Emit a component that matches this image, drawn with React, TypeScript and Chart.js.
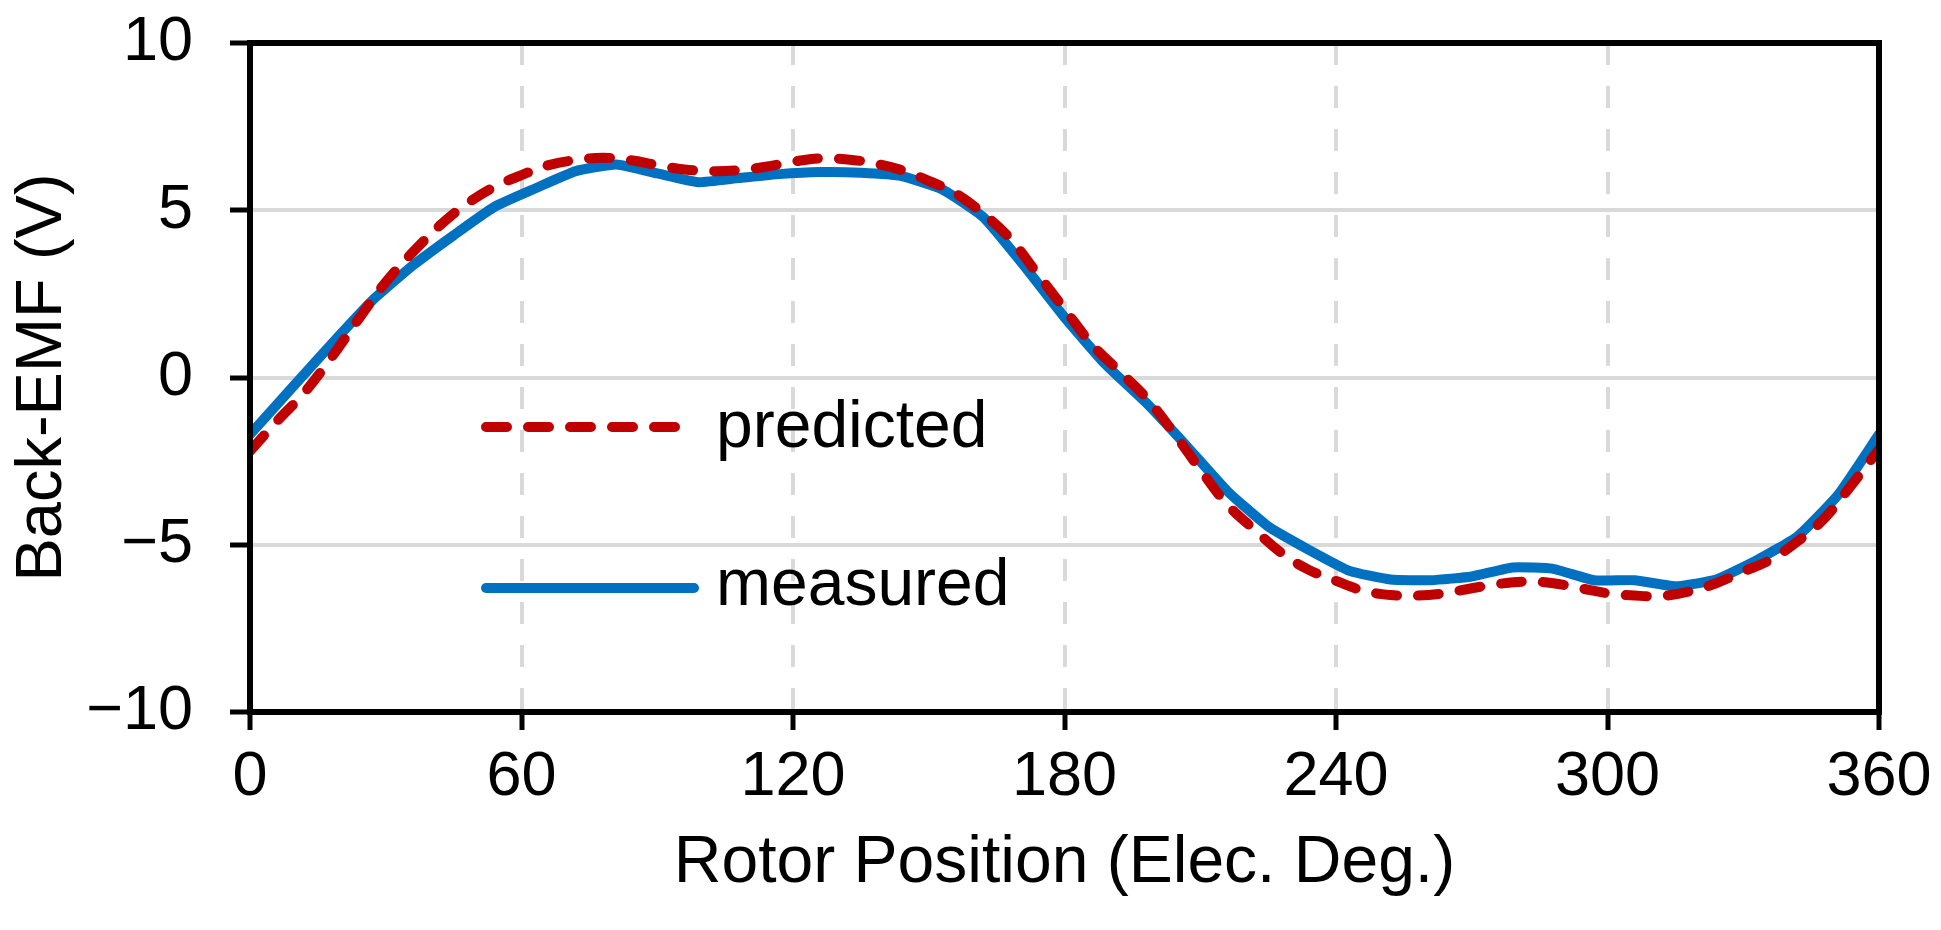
import React, { useEffect, useRef } from "react";
import { Chart, registerables } from "chart.js";

Chart.register(...registerables);

// ---- data ----
const measuredAngles = [0, 9, 18, 27, 36, 45, 54, 63, 72, 81, 90, 99, 108, 117, 126, 135, 144, 153, 162, 171, 180, 189, 198, 207, 216, 225, 234, 243, 252, 261, 270, 279, 288, 297, 306, 315, 324, 333, 342, 351, 360];
const measuredValues = [-1.7, -0.35, 1.0, 2.3, 3.35, 4.25, 5.1, 5.65, 6.17, 6.37, 6.1, 5.84, 5.96, 6.08, 6.14, 6.12, 6.02, 5.62, 4.8, 3.35, 1.8, 0.4, -0.75, -2.05, -3.4, -4.45, -5.15, -5.78, -6.04, -6.06, -5.95, -5.68, -5.72, -6.06, -6.06, -6.24, -6.04, -5.46, -4.75, -3.5, -1.7];

const predictedAngles = [0, 6, 12, 18, 24, 30, 36, 42, 48, 54, 60, 66, 72, 78, 84, 90, 96, 102, 108, 114, 120, 126, 132, 138, 144, 150, 156, 162, 168, 174, 180, 186, 192, 198, 204, 210, 216, 222, 228, 234, 240, 246, 252, 258, 264, 270, 276, 282, 288, 294, 300, 306, 312, 318, 324, 330, 336, 342, 348, 354, 360];
const predictedValues = [-2.2, -1.3, -0.45, 0.6, 1.75, 2.85, 3.75, 4.55, 5.2, 5.7, 6.05, 6.35, 6.5, 6.57, 6.5, 6.35, 6.22, 6.17, 6.2, 6.3, 6.45, 6.55, 6.52, 6.4, 6.2, 5.88, 5.5, 4.9, 4.15, 3.1, 2.05, 1.0, 0.2, -0.6, -1.63, -2.75, -3.8, -4.55, -5.25, -5.75, -6.08, -6.37, -6.5, -6.52, -6.45, -6.3, -6.17, -6.1, -6.15, -6.3, -6.45, -6.52, -6.53, -6.4, -6.15, -5.8, -5.45, -4.9, -4.2, -3.2, -2.15];

const seriesNames = ["predicted", "measured"];
const xRange = [0, 360];
const xStep = 60;
const yRange = [-10, 10];
const yStep = 5;
const xTitle = "Rotor Position (Elec. Deg.)";
const yTitle = "Back-EMF (V)";

const FONT = "'Liberation Sans', Arial, Helvetica, sans-serif";
const RED = "#C00000";
const BLUE = "#0070C0";
const GRID = "#d9d9d9";

const framePlugin = {
  id: "frame",
  afterDatasetsDraw(chart: any) {
    const { ctx, chartArea } = chart;
    ctx.save();
    ctx.strokeStyle = "#000";
    ctx.lineWidth = 6;
    ctx.lineJoin = "miter";
    ctx.strokeRect(chartArea.left, chartArea.top, chartArea.right - chartArea.left, chartArea.bottom - chartArea.top);
    ctx.restore();
  },
};

const legendPlugin = {
  id: "insideLegend",
  afterDraw(chart: any) {
    const { ctx, chartArea } = chart;
    const rows = [
      { ds: chart.data.datasets[0], lineY: 384, textY: 404 },
      { ds: chart.data.datasets[1], lineY: 545, textY: 562 },
    ];
    ctx.save();
    rows.forEach((r) => {
      const x1 = chartArea.left + 236;
      const x2 = chartArea.left + 444;
      const y = chartArea.top + r.lineY;
      ctx.beginPath();
      ctx.strokeStyle = r.ds.borderColor;
      ctx.lineWidth = r.ds.borderWidth;
      ctx.lineCap = "round";
      ctx.setLineDash(r.ds.borderDash || []);
      ctx.moveTo(x1, y);
      ctx.lineTo(x2, y);
      ctx.stroke();
      ctx.setLineDash([]);
      ctx.fillStyle = "#000";
      ctx.font = `66px ${FONT}`;
      ctx.textAlign = "left";
      ctx.textBaseline = "alphabetic";
      ctx.fillText(r.ds.label, chartArea.left + 466, chartArea.top + r.textY);
    });
    ctx.restore();
  },
};

export default function App() {
  const canvasRef = useRef<HTMLCanvasElement | null>(null);

  useEffect(() => {
    if (!canvasRef.current) return;
    const chart = new Chart(canvasRef.current, {
      type: "line",
      data: {
        datasets: [
          {
            label: seriesNames[0],
            data: predictedAngles.map((a, i) => ({ x: a, y: predictedValues[i] })),
            borderColor: RED,
            backgroundColor: RED,
            borderWidth: 10,
            borderDash: [21, 21],
            borderCapStyle: "round",
            borderJoinStyle: "round",
            pointRadius: 0,
            tension: 0.4,
            fill: false,
          },
          {
            label: seriesNames[1],
            data: measuredAngles.map((a, i) => ({ x: a, y: measuredValues[i] })),
            borderColor: BLUE,
            backgroundColor: BLUE,
            borderWidth: 10,
            borderCapStyle: "round",
            borderJoinStyle: "round",
            pointRadius: 0,
            tension: 0.15,
            fill: false,
          },
        ],
      },
      options: {
        responsive: false,
        animation: false,
        devicePixelRatio: 1,
        layout: { padding: { left: 0, top: 43, right: 62, bottom: 0 } },
        plugins: { legend: { display: false }, tooltip: { enabled: false } },
        scales: {
          x: {
            type: "linear",
            min: xRange[0],
            max: xRange[1],
            afterFit: (s: any) => {
              s.height = 218;
              s.paddingLeft = 0;
              s.paddingRight = 0;
              s.paddingTop = 0;
              s.paddingBottom = 0;
            },
            ticks: {
              stepSize: xStep,
              color: "#000",
              font: { family: FONT, size: 63 },
              padding: 10,
              maxRotation: 0,
              autoSkip: false,
            },
            grid: {
              color: GRID,
              lineWidth: 4,
              tickColor: "#000",
              tickWidth: 5,
              tickLength: 18,
              borderDash: [22, 21],
            } as any,
            border: { display: false, dash: [22, 21] } as any,
            title: {
              display: true,
              text: xTitle,
              color: "#000",
              font: { family: FONT, size: 66 },
              padding: { top: 0, bottom: 27 },
            },
          },
          y: {
            type: "linear",
            min: yRange[0],
            max: yRange[1],
            afterFit: (s: any) => {
              s.width = 250;
              s.paddingTop = 0;
              s.paddingBottom = 0;
              s.paddingLeft = 0;
              s.paddingRight = 0;
            },
            ticks: {
              stepSize: yStep,
              color: "#000",
              font: { family: FONT, size: 63 },
              padding: 37,
              callback: (v: any) => String(v).replace("-", "\u2212"),
            },
            grid: {
              color: GRID,
              lineWidth: 4,
              tickColor: "#000",
              tickWidth: 5,
              tickLength: 20,
            },
            border: { display: false },
            title: {
              display: true,
              text: yTitle,
              color: "#000",
              font: { family: FONT, size: 65 },
              padding: { top: 4, bottom: 0 },
            },
          },
        },
      },
      plugins: [framePlugin, legendPlugin],
    } as any);
    return () => chart.destroy();
  }, []);

  return (
    <div style={{ position: "fixed", left: 0, top: 0, width: 1941, height: 930, background: "#fff" }}>
      <canvas ref={canvasRef} width={1941} height={930} style={{ display: "block" }} />
    </div>
  );
}
